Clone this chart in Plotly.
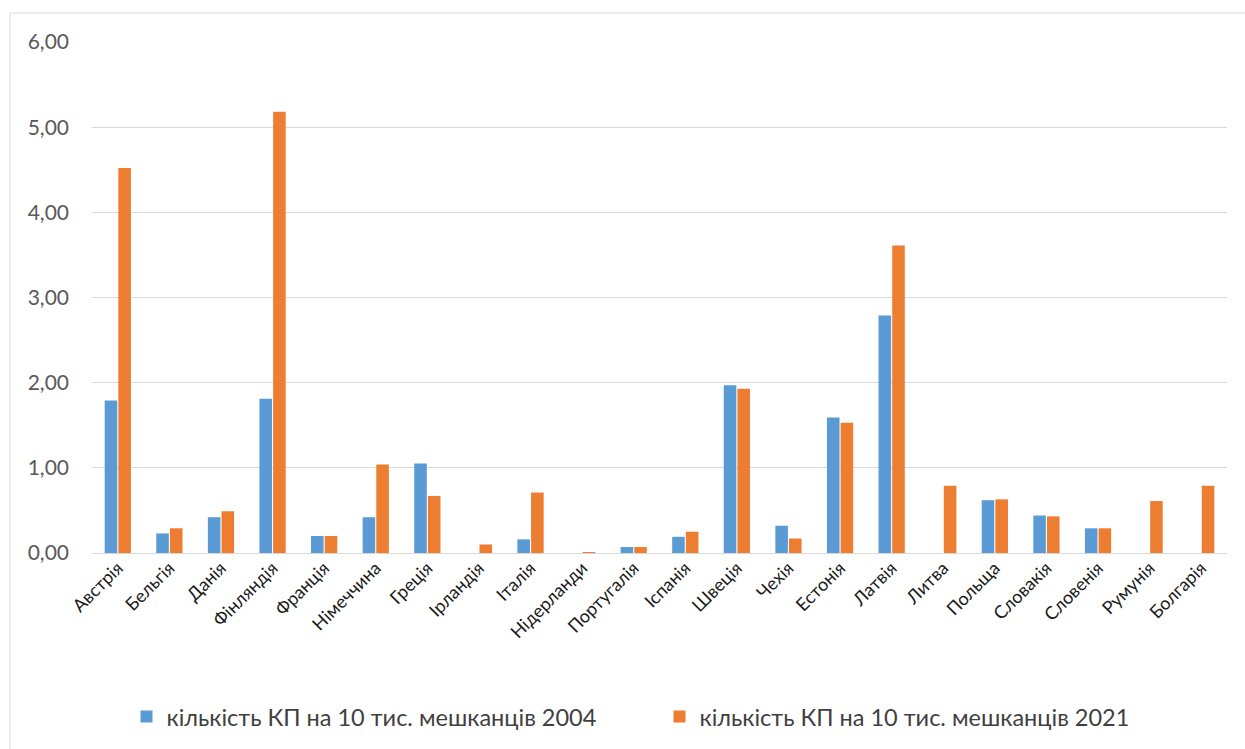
import plotly.graph_objects as go

countries = ["Австрія", "Бельгія", "Данія", "Фінляндія", "Франція", "Німеччина",
             "Греція", "Ірландія", "Італія", "Нідерланди", "Португалія", "Іспанія",
             "Швеція", "Чехія", "Естонія", "Латвія", "Литва", "Польща", "Словакія",
             "Словенія", "Румунія", "Болгарія"]

values_2004 = [1.79, 0.23, 0.42, 1.81, 0.20, 0.42, 1.05, 0.0, 0.16, 0.0, 0.07, 0.19,
               1.97, 0.32, 1.59, 2.79, 0.0, 0.62, 0.44, 0.29, 0.0, 0.0]
values_2021 = [4.52, 0.29, 0.49, 5.18, 0.20, 1.04, 0.67, 0.10, 0.71, 0.01, 0.07, 0.25,
               1.93, 0.17, 1.53, 3.61, 0.79, 0.63, 0.43, 0.29, 0.61, 0.79]

name_2004 = "кількість КП на 10 тис. мешканців 2004"
name_2021 = "кількість КП на 10 тис. мешканців 2021"

y_ticks = [0, 1, 2, 3, 4, 5, 6]

FONT = "Lato, 'Noto Sans', sans-serif"

fig = go.Figure()
fig.add_trace(go.Bar(x=countries, y=values_2004, name=name_2004,
                     marker=dict(color="#5b9bd5", line=dict(width=0))))
fig.add_trace(go.Bar(x=countries, y=values_2021, name=name_2021,
                     marker=dict(color="#ed7d31", line=dict(width=0))))

fig.update_layout(
    width=1245, height=749,
    margin=dict(l=92, r=18, t=42, b=195),
    paper_bgcolor="white", plot_bgcolor="white",
    barmode="group", bargap=0.47, bargroupgap=0.08,
    separators=", ",
    font=dict(family=FONT, color="#404040"),
    showlegend=True,
    legend=dict(orientation="h", x=0.5, xanchor="center", y=-0.318, yanchor="middle",
                font=dict(size=23.5, color="#404040", family=FONT),
                entrywidth=488, entrywidthmode="pixels",
                itemwidth=30, traceorder="normal"),
    xaxis=dict(tickangle=-45, tickfont=dict(size=18, color="#1a1a1a", family=FONT),
               showgrid=False, showline=False, ticks="", automargin=False),
    yaxis=dict(range=[0, 6], tickvals=y_ticks, tickformat=".2f",
               tickfont=dict(size=21, color="#595959", family=FONT),
               showgrid=True, gridcolor="#d9d9d9", gridwidth=1,
               zeroline=True, zerolinecolor="#d9d9d9", zerolinewidth=1,
               showline=False, ticks="", ticklabelstandoff=22, automargin=False),
    shapes=[dict(type="rect", xref="paper", yref="paper",
                 x0=-82 / 1135, x1=1.02, y0=-(749 - 554 + 10) / 512, y1=(554 - 13) / 512,
                 line=dict(color="#d9d9d9", width=1), fillcolor="rgba(0,0,0,0)",
                 layer="below")],
)

fig.write_html("out.html")
